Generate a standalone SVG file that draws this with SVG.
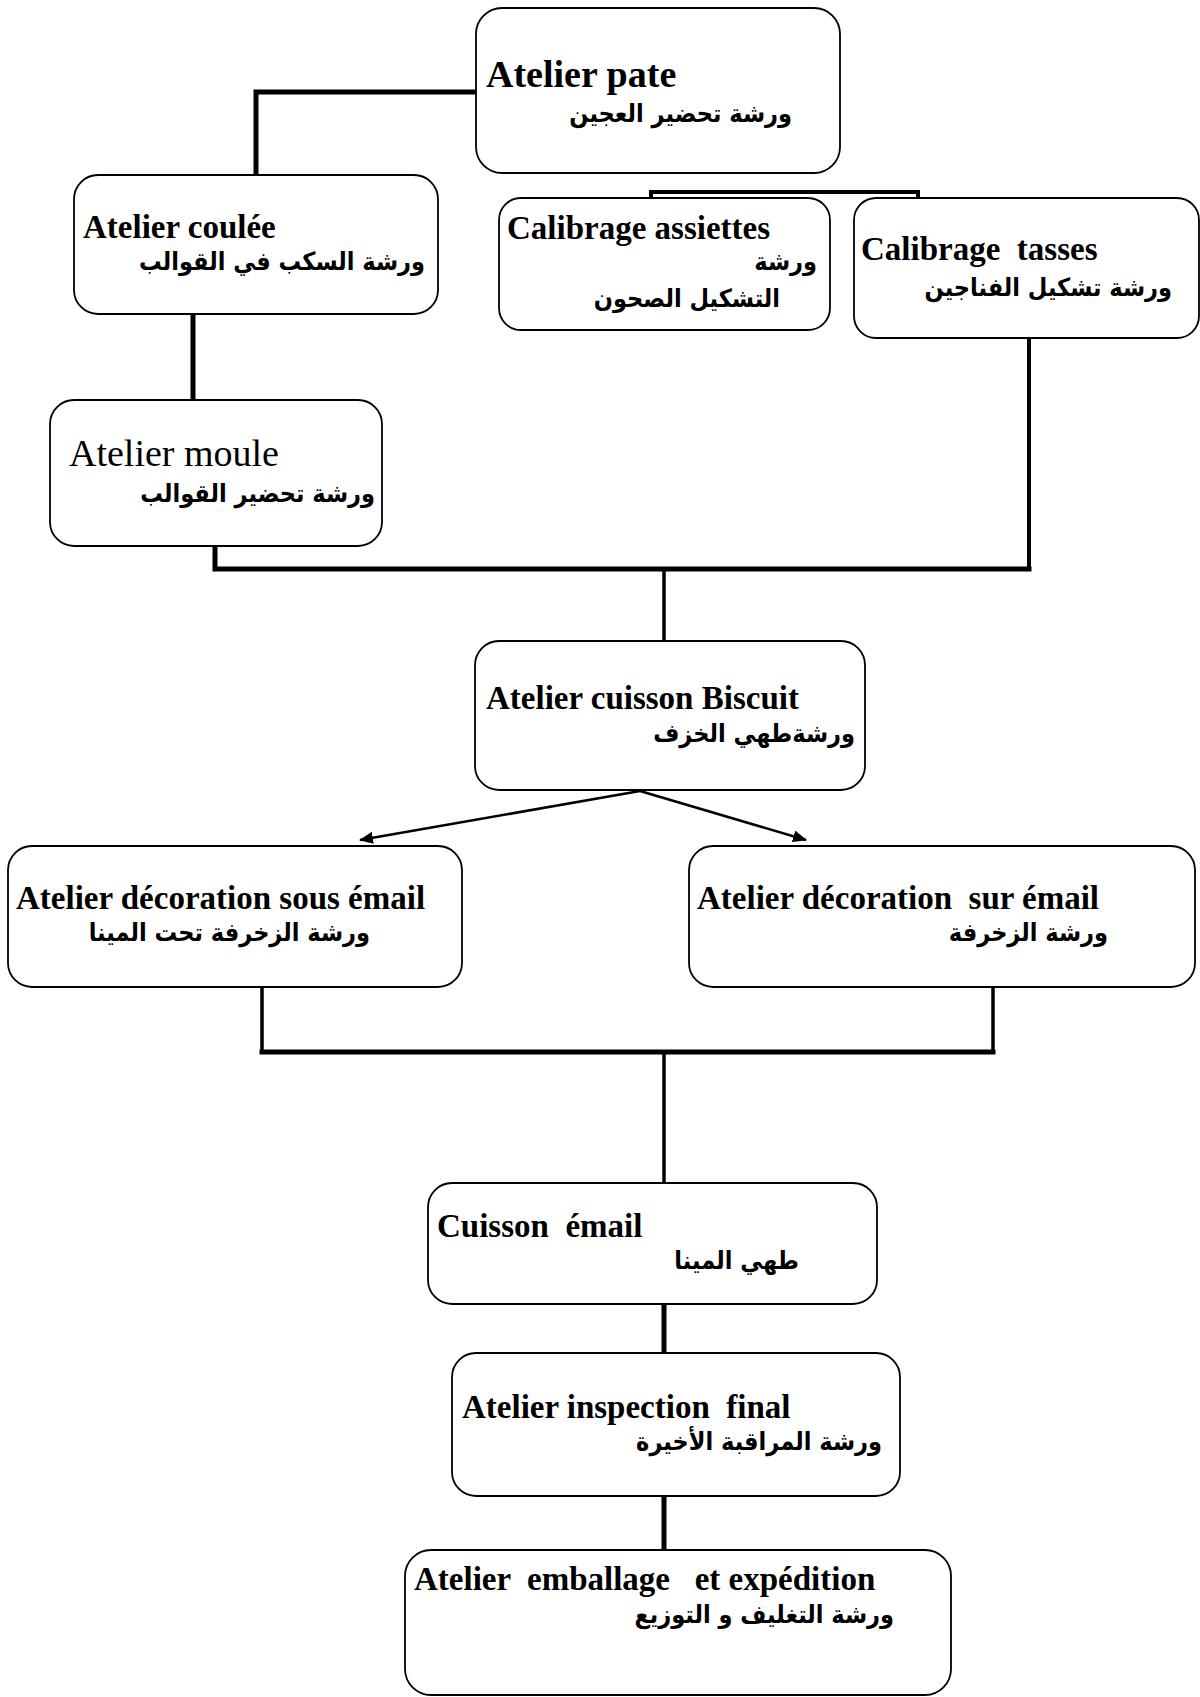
<svg xmlns="http://www.w3.org/2000/svg" width="1200" height="1697" viewBox="0 0 1200 1697">
<style>
.box{fill:#fff;stroke:#000;stroke-width:1.8}
.fr{font-family:"Liberation Serif","Times New Roman",serif;font-weight:bold;font-size:33px;fill:#000;white-space:pre}
.frr{font-family:"Liberation Serif","Times New Roman",serif;font-size:38px;fill:#000;white-space:pre}
.ar{font-family:"DejaVu Sans Condensed","DejaVu Sans",sans-serif;font-weight:bold;font-size:25px;fill:#000;text-anchor:end}
.c{fill:none;stroke:#000;stroke-linecap:square}
</style>
<defs>
<marker id="ah" viewBox="0 0 14 12" refX="13" refY="6" markerWidth="14" markerHeight="12" orient="auto" markerUnits="userSpaceOnUse">
<path d="M0,0 L14,6 L0,12 z" fill="#000"/>
</marker>
</defs>
<rect width="1200" height="1697" fill="#fff"/>
<g id="connectors">
<polyline class="c" stroke-width="5" points="476,92 256,92 256,175"/>
<line class="c" stroke-width="5" x1="193" y1="314" x2="193" y2="400"/>
<polyline class="c" stroke-width="4" points="651,198 651,192 918,192 918,198"/>
<polyline class="c" stroke-width="4" points="1029,338 1029,569"/>
<polyline class="c" stroke-width="5" points="215,546 215,569 1029,569"/>
<line class="c" stroke-width="3.5" x1="664" y1="569" x2="664" y2="641"/>
<line stroke="#000" stroke-width="2.6" x1="640" y1="791" x2="360" y2="840" marker-end="url(#ah)"/>
<line stroke="#000" stroke-width="2.6" x1="640" y1="791" x2="806" y2="840" marker-end="url(#ah)"/>
<polyline class="c" stroke-width="3.5" points="262,987 262,1052"/>
<polyline class="c" stroke-width="3.5" points="993,987 993,1052"/>
<line class="c" stroke-width="5" x1="262" y1="1052" x2="993" y2="1052"/>
<line class="c" stroke-width="3.5" x1="664" y1="1052" x2="664" y2="1183"/>
<line class="c" stroke-width="5" x1="664" y1="1304" x2="664" y2="1353"/>
<line class="c" stroke-width="5" x1="664" y1="1496" x2="664" y2="1550"/>
</g>
<g id="atelier-pate">
<rect class="box" x="476" y="8" width="364" height="165" rx="26"/>
<text class="fr" x="486" y="87" style="font-size:38px">Atelier pate</text>
<text class="ar" x="792" y="122">ورشة تحضير العجين</text>
</g>
<g id="atelier-coulee">
<rect class="box" x="74" y="175" width="364" height="139" rx="24"/>
<text class="fr" x="83" y="238">Atelier coulée</text>
<text class="ar" x="425" y="270">ورشة السكب في القوالب</text>
</g>
<g id="calibrage-assiettes">
<rect class="box" x="499" y="198" width="331" height="132" rx="22"/>
<text class="fr" x="507" y="239">Calibrage assiettes</text>
<text class="ar" x="817" y="270">ورشة</text>
<text class="ar" x="780" y="307">التشكيل الصحون</text>
</g>
<g id="calibrage-tasses">
<rect class="box" x="854" y="198" width="345" height="140" rx="22"/>
<text class="fr" x="861" y="260">Calibrage  tasses</text>
<text class="ar" x="1172" y="296">ورشة تشكيل الفناجين</text>
</g>
<g id="atelier-moule">
<rect class="box" x="50" y="400" width="332" height="146" rx="24"/>
<text class="frr" x="69" y="466">Atelier moule</text>
<text class="ar" x="375" y="502">ورشة تحضير  القوالب</text>
</g>
<g id="cuisson-biscuit">
<rect class="box" x="475" y="641" width="390" height="149" rx="24"/>
<text class="fr" x="486" y="709">Atelier cuisson Biscuit</text>
<text class="ar" x="855" y="742">ورشةطهي الخزف</text>
</g>
<g id="decoration-sous">
<rect class="box" x="8" y="846" width="454" height="141" rx="24"/>
<text class="fr" x="16" y="909">Atelier décoration sous émail</text>
<text class="ar" x="370" y="941">ورشة الزخرفة تحت المينا</text>
</g>
<g id="decoration-sur">
<rect class="box" x="689" y="846" width="506" height="141" rx="24"/>
<text class="fr" x="697" y="909">Atelier décoration  sur émail</text>
<text class="ar" x="1108" y="941">ورشة الزخرفة</text>
</g>
<g id="cuisson-email">
<rect class="box" x="428" y="1183" width="449" height="121" rx="24"/>
<text class="fr" x="437" y="1237">Cuisson  émail</text>
<text class="ar" x="799" y="1269">طهي المينا</text>
</g>
<g id="inspection-final">
<rect class="box" x="452" y="1353" width="448" height="143" rx="24"/>
<text class="fr" x="462" y="1418">Atelier inspection  final</text>
<text class="ar" x="882" y="1450">ورشة المراقبة الأخيرة</text>
</g>
<g id="emballage">
<rect class="box" x="405" y="1550" width="546" height="145" rx="26"/>
<text class="fr" x="414" y="1590">Atelier  emballage   et expédition</text>
<text class="ar" x="894" y="1623">ورشة التغليف و التوزيع</text>
</g>
</svg>
